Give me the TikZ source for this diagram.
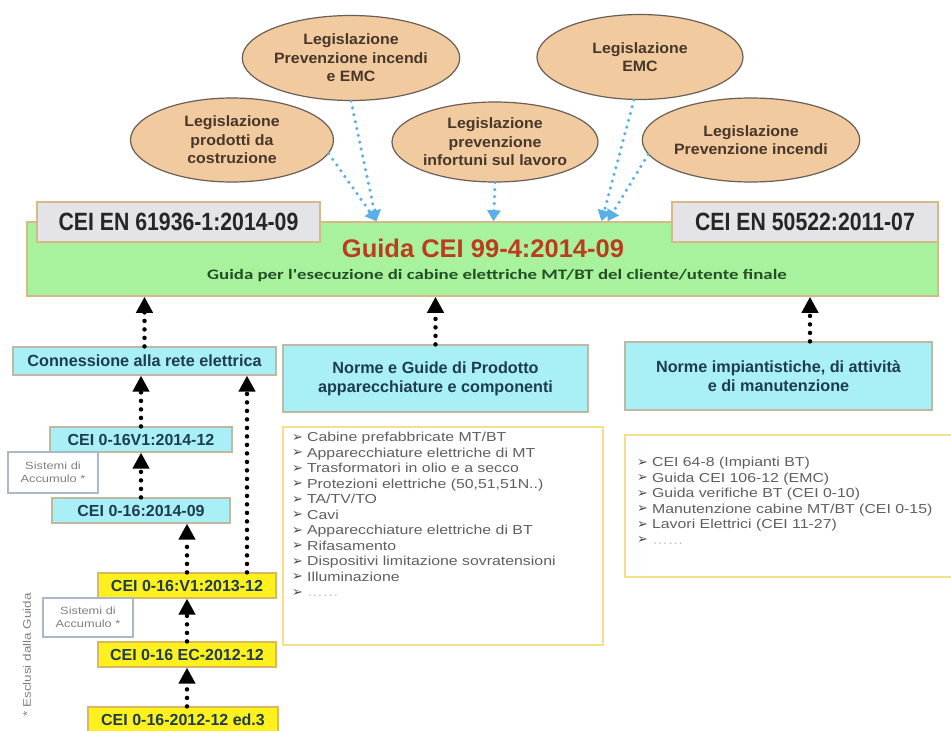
\documentclass[tikz,border=0pt]{standalone}
\usepackage{fontspec}
\setmainfont{Liberation Sans}
\newfontfamily\listfont[FakeStretch=1.22]{Liberation Sans}
\newfontfamily\ellfont[FakeStretch=1.06]{Liberation Sans}
\newfontfamily\narrowfont[FakeStretch=0.85]{Liberation Sans}
\newfontfamily\subfont[FakeStretch=1.3]{Carlito}
\newfontfamily\dejavu{DejaVu Sans}
\usetikzlibrary{shapes.geometric,arrows.meta}
\definecolor{tanfill}{RGB}{242,202,160}
\definecolor{ellline}{RGB}{105,95,85}
\definecolor{elltext}{RGB}{70,55,40}
\definecolor{bluedotc}{RGB}{90,175,230}
\definecolor{greenfill}{RGB}{168,242,158}
\definecolor{tanline}{RGB}{215,185,135}
\definecolor{grayfill}{RGB}{228,228,232}
\definecolor{cyanfill}{RGB}{168,240,245}
\definecolor{cyanline}{RGB}{190,185,160}
\definecolor{yellowfill}{RGB}{255,240,30}
\definecolor{yellowline}{RGB}{215,185,100}
\definecolor{listline}{RGB}{245,222,140}
\definecolor{sistline}{RGB}{170,185,200}
\definecolor{titlered}{RGB}{190,60,30}
\definecolor{subgreen}{RGB}{35,80,35}
\definecolor{headtext}{RGB}{30,60,80}
\definecolor{listtext}{RGB}{95,95,95}
\newcommand\blt{\raisebox{0.5pt}{\dejavu\fontsize{13}{13}\selectfont\color{black!70}➢}\hspace{4pt}}
\begin{document}
\begin{tikzpicture}[x=1pt,y=-1pt,
  ell/.style={ellipse, draw=ellline, fill=tanfill, line width=1.2pt, inner sep=0pt,
    text=elltext, align=center, font=\ellfont\bfseries\fontsize{15}{18.5}\selectfont},
  bluearr/.style={line width=3.5pt, draw=bluedotc, dash pattern=on 0pt off 7pt, line cap=round,
    -{Triangle[width=13pt,length=11pt,fill=bluedotc]}},
  blackarr/.style={line width=4.5pt, draw=black, dash pattern=on 0pt off 8.5pt, line cap=round,
    -{Triangle[width=16pt,length=16pt]}},
  graybox/.style={draw=tanline, fill=grayfill, line width=1.5pt, inner sep=0pt,
    font=\narrowfont\bfseries\fontsize{25}{25}\selectfont, text=black!85},
  cyanbox/.style={draw=cyanline, fill=cyanfill, line width=1.2pt, inner sep=0pt,
    text=headtext, align=center, font=\bfseries\fontsize{16.2}{19}\selectfont},
  yellowbox/.style={draw=yellowline, fill=yellowfill, line width=1.2pt, inner sep=0pt,
    text=headtext, font=\bfseries\fontsize{16}{19}\selectfont},
  sistbox/.style={draw=sistline, fill=white, line width=1.2pt, inner sep=0pt,
    text=black!50, align=center, font=\listfont\fontsize{10.5}{13}\selectfont},
  listbox/.style={draw=listline, fill=white, line width=1.5pt, inner sep=0pt},
  listtxt/.style={anchor=north west, inner sep=0pt, align=left, text=listtext,
    font=\listfont\fontsize{13}{15.5}\selectfont}
]
\useasboundingbox (0,0) rectangle (951,731);
\fill[white] (0,0) rectangle (951,731);

% ellipses
\node[ell, minimum width=203pt, minimum height=84pt] (e1) at (232,140) {Legislazione\\prodotti da\\costruzione};
\node[ell, minimum width=208pt, minimum height=85pt] (e2) at (351,58) {Legislazione\\Prevenzione incendi\\e EMC};
\node[ell, minimum width=206pt, minimum height=80pt] (e3) at (495,142) {Legislazione\\prevenzione\\infortuni sul lavoro};
\node[ell, minimum width=206pt, minimum height=85pt] (e4) at (640,57) {Legislazione\\EMC};
\node[ell, minimum width=207pt, minimum height=84pt] (e5) at (751,140) {Legislazione\\Prevenzione incendi};

% green guide box
\node[draw=tanline, fill=greenfill, line width=1.5pt, minimum width=911pt, minimum height=74pt, inner sep=0pt] (green) at (482.5,259) {};
\node[inner sep=0pt, text=titlered, font=\bfseries\fontsize{25.5}{26}\selectfont] (title) at (483,248) {Guida CEI 99-4:2014-09};
\node[inner sep=0pt, text=subgreen, font=\subfont\bfseries\fontsize{14.5}{15}\selectfont] (subtitle) at (497,276) {Guida per l'esecuzione di cabine elettriche MT/BT del cliente/utente finale};

\node[graybox, minimum width=283pt, minimum height=40pt] (g1) at (178.5,222) {CEI EN 61936-1:2014-09};
\node[graybox, minimum width=266pt, minimum height=40pt] (g2) at (805,222) {CEI EN 50522:2011-07};

% blue arrows
\coordinate (t1) at ([xshift=-106pt]green.north);
\coordinate (t2) at ([xshift=11pt]green.north);
\coordinate (t3) at ([xshift=119pt]green.north);
\draw[bluearr] (e2.south) -- (t1);
\draw[bluearr] (e1.-8) -- (t1);
\draw[bluearr] (e3.south) -- (t2);
\draw[bluearr] (e4.-98) -- (t3);
\draw[bluearr] (e5.188) -- ([xshift=6pt]t3);

% left column
\node[cyanbox, minimum width=263pt, minimum height=28pt] (conn) at (144.5,361) {Connessione alla rete elettrica};
\node[cyanbox, minimum width=182pt, minimum height=25pt, font=\bfseries\fontsize{16}{19}\selectfont] (v14) at (141,439.5) {CEI 0-16V1:2014-12};
\node[sistbox, minimum width=90pt, minimum height=41pt] (s1) at (53,472.5) {Sistemi di\\Accumulo *};
\node[cyanbox, minimum width=178pt, minimum height=25pt, font=\bfseries\fontsize{16}{19}\selectfont] (c14) at (141,510.5) {CEI 0-16:2014-09};
\node[yellowbox, minimum width=178pt, minimum height=25pt] (v13) at (187,585.5) {CEI 0-16:V1:2013-12};
\node[sistbox, minimum width=90pt, minimum height=39pt] (s2) at (88,617.5) {Sistemi di\\Accumulo *};
\node[yellowbox, minimum width=178pt, minimum height=25pt] (ec) at (187,654.5) {CEI 0-16 EC-2012-12};
\node[yellowbox, minimum width=190pt, minimum height=26pt] (ed3) at (183,720) {CEI 0-16-2012-12 ed.3};
\node[rotate=90, inner sep=0pt, text=black!50, font=\listfont\fontsize{11}{12}\selectfont] (escl) at (27,655) {* Esclusi dalla Guida};

% middle column
\node[cyanbox, minimum width=305pt, minimum height=67pt] (n1) at (435.5,378.5) {Norme e Guide di Prodotto\\apparecchiature e componenti};
\node[listbox, minimum width=320pt, minimum height=218pt] (l1) at (443,536) {};
\node[listtxt] (l1t) at (292,432) {\blt Cabine prefabbricate MT/BT\\
\blt Apparecchiature elettriche di MT\\
\blt Trasformatori in olio e a secco\\
\blt Protezioni elettriche (50,51,51N..)\\
\blt TA/TV/TO\\
\blt Cavi\\
\blt Apparecchiature elettriche di BT\\
\blt Rifasamento\\
\blt Dispositivi limitazione sovratensioni\\
\blt Illuminazione\\
\blt {\color{black!25}\textellipsis\textellipsis}};

% right column
\node[cyanbox, minimum width=307pt, minimum height=68pt] (n2) at (778.5,376) {Norme impiantistiche, di attività\\e di manutenzione};
\node[listbox, minimum width=330pt, minimum height=142pt] (l2) at (790,506) {};
\node[listtxt] (l2t) at (637,457) {\blt CEI 64-8 (Impianti BT)\\
\blt Guida CEI 106-12 (EMC)\\
\blt Guida verifiche BT (CEI 0-10)\\
\blt Manutenzione cabine MT/BT (CEI 0-15)\\
\blt Lavori Elettrici (CEI 11-27)\\
\blt {\color{black!25}\textellipsis\textellipsis}};

% black arrows
\draw[blackarr] (conn.north) -- (conn.north |- green.south);
\draw[blackarr] (n1.north) -- (n1.north |- green.south);
\coordinate (n2a) at ([xshift=31.5pt]n2.north);
\draw[blackarr] (n2a) -- (n2a |- green.south);
\draw[blackarr] (v14.north) -- (v14.north |- conn.south);
\draw[blackarr] (c14.north) -- (c14.north |- v14.south);
\draw[blackarr] (v13.north) -- (v13.north |- c14.south);
\coordinate (v13b) at ([xshift=60pt]v13.north);
\draw[blackarr] (v13b) -- (v13b |- conn.south);
\draw[blackarr] (ec.north) -- (ec.north |- v13.south);
\draw[blackarr] (ec.south |- ed3.north) -- (ec.south);
\end{tikzpicture}
\end{document}
